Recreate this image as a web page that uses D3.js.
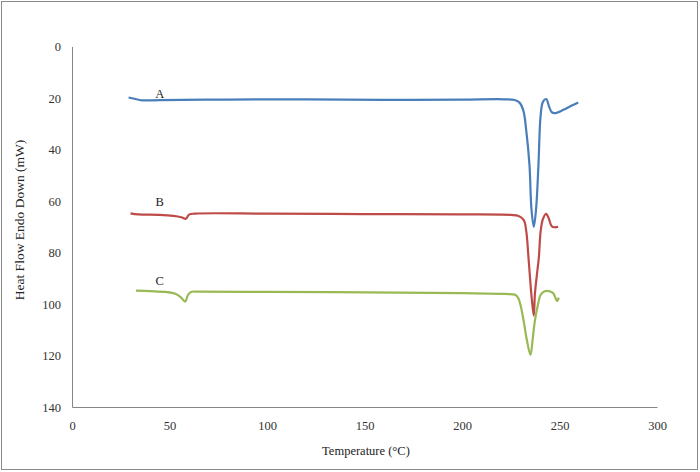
<!DOCTYPE html>
<html>
<head>
<meta charset="utf-8">
<script src="https://cdn.jsdelivr.net/npm/d3@7"></script>
<style>
  body { margin: 0; background: #fff; }
  text { font-family: "Liberation Serif", "Times New Roman", serif; }
</style>
</head>
<body>
<script>
// data: [temperature, heat flow]
const seriesA = [[29,19.8],[32,20.3],[36,20.9],[45,20.8],[80,20.6],[120,20.5],[160,20.7],[200,20.6],[222,20.5],
  [227,20.8],[229.5,21.8],[231.5,25],[233,33],[234.6,46],[235.6,63],[236.8,70],[238,63],[239.2,46],[240.3,27],
  [241.5,21.5],[243.2,20.4],[244.5,23],[246,25.5],[247.5,25.9],[252,24.6],[256,23],[259.6,21.7]];
const seriesB = [[30,64.8],[34,65.2],[45,65.4],[52,65.8],[56,66.3],[58.4,66.9],[60,65.3],[63,64.9],[100,64.9],
  [150,65.1],[200,65.2],[225,65.4],[229,65.8],[231.7,67.4],[233,72],[234.1,82],[235.6,96.5],[236.8,104.5],
  [237.4,96],[238.5,88],[239.4,82],[240.3,72],[241.5,67],[243.2,65],[244.5,66.8],[246,69.8],[247.5,70.2],[249.3,70]];
const seriesC = [[32.8,94.8],[40,95],[48,95.3],[53,96],[56,97.5],[58,99.1],[59.5,96.5],[61,95.3],[65,95.2],
  [100,95.3],[150,95.5],[200,95.8],[222,96.1],[227.5,96.5],[229,98],[230,100.4],[231.7,106.9],[233.1,113.3],
  [235.1,119.8],[236.3,113.3],[237.3,106.9],[238.9,100.4],[240.3,96.5],[242,95.2],[243.7,94.9],[245.5,95.2],
  [247,96],[248,97.8],[248.8,98.8],[249.6,97.5]];
const seriesNames = ["A", "B", "C"];
const labelPos = [[45,18.5],[45,60.5],[45,91]];
const xTicks = [0,50,100,150,200,250,300];
const yTicks = [0,20,40,60,80,100,120,140];

const width = 700, height = 472,
      colors = ["#4a7ebb", "#be4b48", "#98b954"],
      svg = d3.select("body").append("svg")
              .attr("width", width)
              .attr("height", height),
      xScale = d3.scaleLinear().domain([0, 300]).range([72, 657]),
      yScale = d3.scaleLinear().domain([0, 140]).range([46.5, 407]);

// outer border
svg.append("rect")
   .attr("x", 1.5).attr("y", 1.5)
   .attr("width", 696).attr("height", 468)
   .attr("fill", "none")
   .attr("stroke", "#8a8a8a");

// axes
const xAxis = svg.append("g")
   .attr("transform", "translate(0," + yScale(140) + ")")
   .call(d3.axisBottom(xScale).tickValues(xTicks).tickSize(0).tickPadding(14));
const yAxis = svg.append("g")
   .attr("transform", "translate(" + xScale(0) + ",0)")
   .call(d3.axisLeft(yScale).tickValues(yTicks).tickSize(0).tickPadding(11));
[xAxis, yAxis].forEach(ax => {
  ax.select(".domain").attr("stroke", "#868686");
  ax.selectAll("text")
    .style("font-family", "'Liberation Serif', serif")
    .style("font-size", "12.5px")
    .attr("fill", "#333");
});

// axis titles
svg.append("text")
   .attr("x", 366).attr("y", 455)
   .attr("text-anchor", "middle")
   .attr("font-size", 12.5).attr("fill", "#222")
   .text("Temperature (°C)");
svg.append("text")
   .attr("transform", "translate(24,220) rotate(-90)")
   .attr("text-anchor", "middle")
   .attr("font-size", 13.5).attr("fill", "#222")
   .text("Heat Flow Endo Down  (mW)");

// curves
const line = d3.line()
   .x(d => xScale(d[0]))
   .y(d => yScale(d[1]))
   .curve(d3.curveCatmullRom.alpha(0.5));

[seriesA, seriesB, seriesC].forEach((s, i) => {
  svg.append("path")
     .datum(s)
     .attr("d", line)
     .attr("fill", "none")
     .attr("stroke", colors[i])
     .attr("stroke-width", 2.2)
     .attr("stroke-linejoin", "round");
});

// curve labels
svg.selectAll(".lbl")
   .data(seriesNames)
   .enter()
   .append("text")
   .attr("class", "lbl")
   .attr("x", (d, i) => xScale(labelPos[i][0]))
   .attr("y", (d, i) => yScale(labelPos[i][1]) + 4)
   .attr("text-anchor", "middle")
   .attr("font-size", 12.5)
   .attr("fill", "#222")
   .text(d => d);
</script>
</body>
</html>
